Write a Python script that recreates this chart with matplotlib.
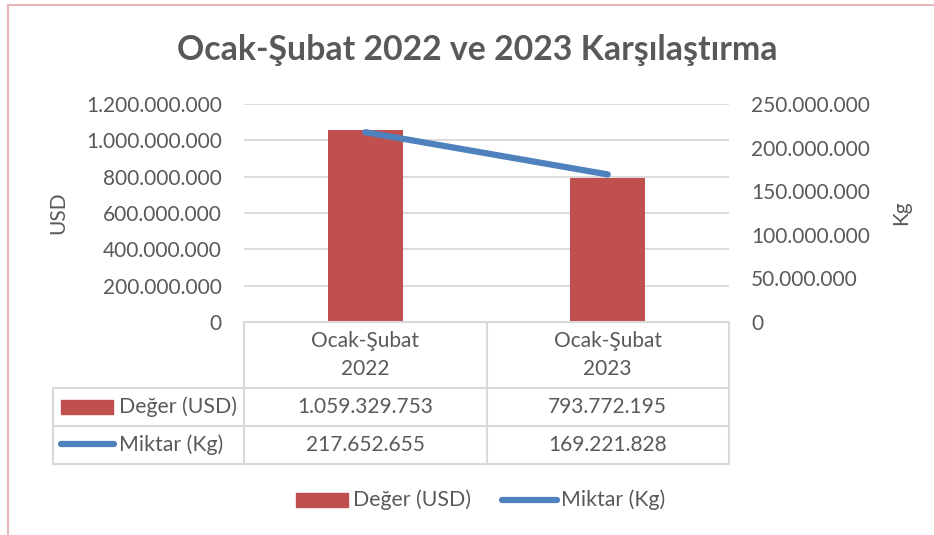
import numpy as np
import matplotlib.pyplot as plt
from matplotlib.patches import Rectangle
from matplotlib.lines import Line2D
from matplotlib.ticker import FuncFormatter

plt.rcParams['font.family'] = ['Lato', 'DejaVu Sans']

categories = ['Ocak-Şubat\n2022', 'Ocak-Şubat\n2023']
deger_usd = [1059329753, 793772195]
miktar_kg = [217652655, 169221828]
series_names = ['Değer (USD)', 'Miktar (Kg)']

TEXT = '#595959'
GRID = '#d9d9d9'
RED = '#C0504D'
BLUE = '#4F81BD'


def dotted(v, pos=None):
    return '{:,.0f}'.format(v).replace(',', '.')


fig = plt.figure(figsize=(9.34, 5.35), dpi=100)
W, H = 934, 535


def fx(px):
    return px / W


def fy(py):
    return 1 - py / H


ax = fig.add_axes([fx(244), fy(322), fx(729) - fx(244), fy(104) - fy(322)])
ax2 = ax.twinx()

x = np.arange(len(categories))
ax.bar(x, deger_usd, width=0.31, color=RED, zorder=2)
ax2.plot(x, miktar_kg, color=BLUE, lw=4.5, solid_capstyle='round', zorder=3)

ax.set_xlim(-0.5, len(categories) - 0.5)
ax.set_ylim(0, 1200000000)
ax.set_yticks(np.arange(0, 1200000001, 200000000))
ax2.set_ylim(0, 250000000)
ax2.set_yticks(np.arange(0, 250000001, 50000000))
ax.yaxis.set_major_formatter(FuncFormatter(dotted))
ax2.yaxis.set_major_formatter(FuncFormatter(dotted))

ax.grid(axis='y', color=GRID, lw=1.3, zorder=0)
ax.set_axisbelow(True)
for a in (ax, ax2):
    for s in a.spines.values():
        s.set_visible(False)
    a.tick_params(length=0, labelsize=15, colors=TEXT)
ax.tick_params(axis='y', pad=16)
ax2.tick_params(axis='y', pad=16)
ax.set_xticks([])

px_w = 729 - 244
px_h = 322 - 104
ax.set_ylabel('USD', fontsize=15, color=TEXT)
ax.yaxis.label.set_va('center')
ax.yaxis.set_label_coords((58 - 244) / px_w, 0.5)
ax2.set_ylabel('Kg', fontsize=15, color=TEXT)
ax2.yaxis.label.set_va('center')
ax2.yaxis.set_label_coords((901 - 244) / px_w, 0.5)

fig.text(fx(477), fy(50), 'Ocak-Şubat 2022 ve 2023 Karşılaştırma', ha='center', va='center',
         fontsize=24.4, fontweight='bold', color=TEXT)

# data table under the axis
tr = ax.get_xaxis_transform()
lw_t = 1.5
col_edges = [-0.5, 0.5, 1.5]


def ay(py):
    return (322 - py) / px_h


for e in col_edges:
    ax.add_line(Line2D([e, e], [ay(322), ay(464)], transform=tr, color=GRID, lw=lw_t, clip_on=False))
ax.add_line(Line2D([-0.5, 1.5], [ay(322), ay(322)], transform=tr, color=GRID, lw=lw_t, clip_on=False))
for py in (388, 426, 464):
    fig.add_artist(Line2D([fx(53), fx(729)], [fy(py), fy(py)], color=GRID, lw=lw_t))
fig.add_artist(Line2D([fx(53), fx(53)], [fy(388), fy(464)], color=GRID, lw=lw_t))

for i, c in enumerate(categories):
    ax.text(x[i], ay(355), c, transform=tr, ha='center', va='center', fontsize=15,
            color=TEXT, linespacing=1.5)
    ax.text(x[i], ay(407), dotted(deger_usd[i]), transform=tr, ha='center', va='center',
            fontsize=15, color=TEXT)
    ax.text(x[i], ay(445), dotted(miktar_kg[i]), transform=tr, ha='center', va='center',
            fontsize=15, color=TEXT)

# row labels with legend keys
fig.add_artist(Rectangle((fx(61), fy(414)), fx(52), fy(400) - fy(414), color=RED))
fig.text(fx(119), fy(407), series_names[0], ha='left', va='center', fontsize=15.3, color=TEXT)
fig.add_artist(Line2D([fx(61), fx(114)], [fy(444), fy(444)], color=BLUE, lw=4.5, solid_capstyle='round'))
fig.text(fx(119), fy(445), series_names[1], ha='left', va='center', fontsize=15.3, color=TEXT)

# bottom legend
fig.add_artist(Rectangle((fx(296), fy(507)), fx(52), fy(493) - fy(507), color=RED))
fig.text(fx(353), fy(500), series_names[0], ha='left', va='center', fontsize=15.3, color=TEXT)
fig.add_artist(Line2D([fx(502), fx(557)], [fy(500), fy(500)], color=BLUE, lw=4.5, solid_capstyle='round'))
fig.text(fx(561), fy(500), series_names[1], ha='left', va='center', fontsize=15.3, color=TEXT)

# chart border (top and left visible)
fig.add_artist(Line2D([fx(8), 1], [fy(5), fy(5)], color='#E6B9B8', lw=1.5))
fig.add_artist(Line2D([fx(8), fx(8)], [fy(5), 0], color='#E6B9B8', lw=1.5))

fig.savefig('out.png', dpi=100, facecolor='white')
